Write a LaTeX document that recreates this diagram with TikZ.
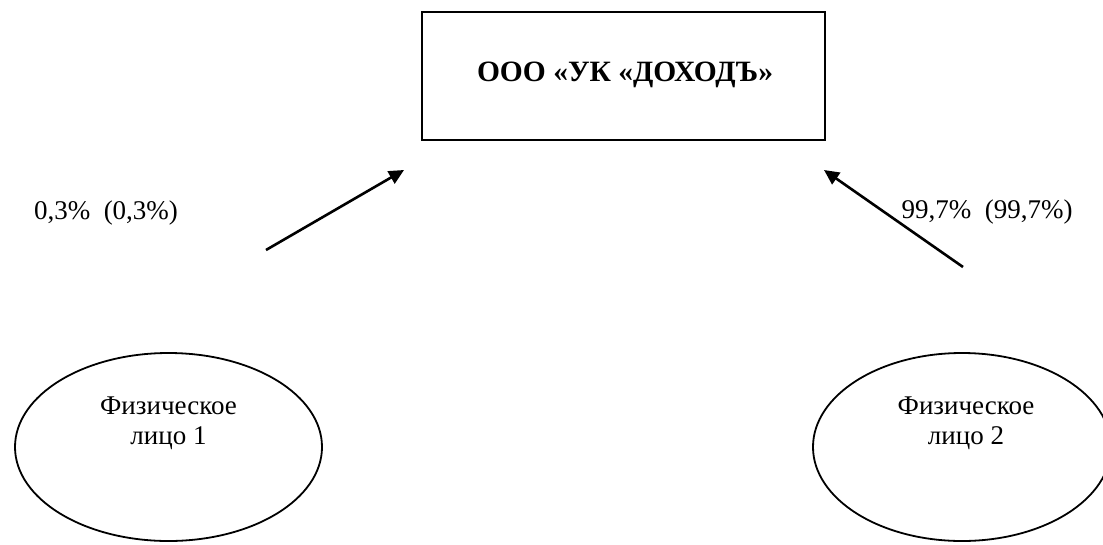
\documentclass[tikz,border=0pt]{standalone}
\usepackage{fontspec}
\setmainfont{Liberation Serif}
\usetikzlibrary{shapes.geometric,arrows.meta}
\tikzset{
  box/.style={draw,line width=2pt,minimum width=403pt,minimum height=128pt,inner sep=0pt},
  oval/.style={draw,ellipse,line width=1.8pt,inner sep=0pt},
  txt/.style={font=\fontsize{27}{30}\selectfont,align=center,inner sep=0pt},
  link/.style={line width=2.6pt,-{Triangle[length=15pt,width=14pt]}}
}
\begin{document}
\begin{tikzpicture}[x=1pt,y=-1pt]
\useasboundingbox (0,0) rectangle (1103,544);
\node[box] (uk) at (623.5,76) {};
\node[txt,font=\fontsize{29.5}{32}\selectfont\bfseries] (ukt) at (625,75) {ООО «УК «ДОХОДЪ»};
\node[oval,minimum width=307pt,minimum height=188pt] (e1) at (168.5,447) {};
\node[oval,minimum width=298pt,minimum height=188pt] (e2) at (962,447) {};
\node[txt] (t1) at (168.5,423) {Физическое\\лицо 1};
\node[txt] (t2) at (966,423) {Физическое\\лицо 2};
\node[txt] (l1) at (106,213) {0,3\%\ \ (0,3\%)};
\node[txt] (l2) at (987,212) {99,7\%\ \ (99,7\%)};
\coordinate (a1s) at (266,250);
\coordinate (a1e) at (404,170);
\coordinate (a2s) at (963,267);
\coordinate (a2e) at (824,170);
\draw[link] (a1s) -- (a1e);
\draw[link] (a2s) -- (a2e);
\end{tikzpicture}
\end{document}
